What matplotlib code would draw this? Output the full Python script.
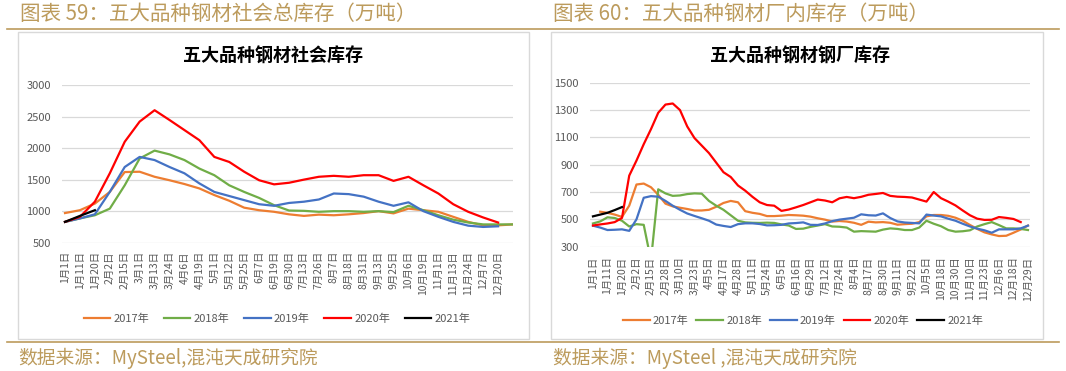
import numpy as np
import matplotlib
matplotlib.use("Agg")
import matplotlib.pyplot as plt
from matplotlib.lines import Line2D
from matplotlib.patches import Rectangle

plt.rcParams['font.family'] = ['Noto Sans CJK SC', 'DejaVu Sans']

nan = np.nan
W, H = 1066, 371

# ---- left chart: social inventory (10k t) ----
soc_labels = ["1月1日", "1月11日", "1月20日", "2月2日", "2月15日", "3月1日", "3月13日",
              "3月24日", "4月6日", "4月19日", "5月1日", "5月12日", "5月25日", "6月7日",
              "6月19日", "6月30日", "7月13日", "7月26日", "8月7日", "8月18日", "8月31日",
              "9月13日", "9月25日", "10月6日", "10月19日", "11月1日", "11月13日",
              "11月24日", "12月7日", "12月20日"]
soc_2017 = [970, 1015, 1120, 1305, 1620, 1625, 1545, 1490, 1430, 1360, 1255, 1165, 1055,
            1015, 990, 950, 925, 945, 935, 950, 970, 1000, 965, 1040, 1015, 990, 910, 830,
            775, 775, 790]
soc_2018 = [830, 885, 935, 1040, 1410, 1835, 1960, 1900, 1810, 1675, 1570, 1410, 1305,
            1210, 1095, 1010, 1005, 990, 1000, 1000, 990, 1000, 985, 1085, 1015, 935, 865,
            820, 790, 790, 790]
soc_2019 = [830, 885, 950, 1305, 1700, 1860, 1810, 1700, 1600, 1440, 1305, 1240, 1175,
            1110, 1085, 1130, 1150, 1185, 1280, 1270, 1230, 1150, 1085, 1140, 1000, 910,
            830, 770, 750, 760, nan]
soc_2020 = [830, 910, 1150, 1600, 2100, 2420, 2600, 2445, 2285, 2125, 1860, 1780, 1625,
            1490, 1425, 1450, 1500, 1545, 1560, 1545, 1570, 1570, 1480, 1545, 1410, 1280,
            1110, 990, 900, 820, nan]
soc_2021 = [830, 925, 1015]

# ---- right chart: mill inventory (10k t) ----
mill_labels = ["1月1日", "1月11日", "1月20日", "2月2日", "2月15日", "2月28日", "3月10日",
               "3月23日", "4月5日", "4月17日", "4月28日", "5月11日", "5月24日", "6月5日",
               "6月16日", "6月29日", "7月12日", "7月24日", "8月4日", "8月17日", "8月30日",
               "9月11日", "9月22日", "10月5日", "10月18日", "10月30日", "11月10日",
               "11月23日", "12月6日", "12月18日", "12月29日"]
mill_2017 = [nan, 556, 548, 535, 518, 600, 755, 762, 735, 680, 615, 595, 585, 576, 565,
             565, 570, 592, 620, 635, 625, 560, 548, 540, 524, 524, 527, 532, 530, 527,
             520, 508, 498, 484, 488, 484, 475, 460, 483, 478, 480, 475, 461, 465, 468,
             480, 522, 532, 532, 526, 512, 490, 459, 430, 405, 390, 378, 380, 402, 426, 455]
mill_2018 = [470, 485, 515, 510, 490, 448, 465, 460, 200, 720, 690, 672, 675, 685, 690,
             688, 635, 600, 570, 530, 490, 478, 475, 474, 476, 474, 463, 455, 430, 432,
             445, 455, 465, 448, 446, 440, 410, 414, 412, 410, 425, 434, 430, 422, 422,
             440, 490, 468, 450, 422, 410, 413, 420, 448, 465, 480, 458, 434, 434, 430, 422]
mill_2019 = [454, 440, 422, 424, 427, 416, 500, 658, 670, 666, 635, 600, 570, 543, 525,
             508, 490, 462, 452, 444, 465, 471, 471, 466, 456, 457, 460, 470, 473, 478,
             460, 459, 470, 487, 498, 505, 512, 537, 530, 528, 544, 510, 485, 477, 474,
             471, 535, 528, 522, 505, 490, 468, 448, 432, 420, 402, 427, 427, 427, 434, 454]
mill_2020 = [455, 463, 470, 480, 510, 820, 930, 1050, 1160, 1280, 1340, 1348, 1300, 1180,
             1095, 1040, 985, 915, 845, 810, 748, 710, 665, 625, 605, 600, 562, 572, 588,
             605, 625, 645, 638, 625, 654, 664, 655, 665, 680, 686, 693, 672, 666, 664, 660,
             645, 630, 700, 655, 630, 602, 565, 530, 505, 496, 497, 517, 511, 503, 480, nan]
mill_2021 = [522, 535, 548, 568, 590]

years = ["2017年", "2018年", "2019年", "2020年", "2021年"]
colors = ["#ED7D31", "#70AD47", "#4472C4", "#FF0000", "#000000"]

GOLD = "#BC9B5C"
TICK = "#595959"
GRID = "#D9D9D9"


def fx(px):
    return px / W


def fy(py):
    return 1 - py / H


fig = plt.figure(figsize=(W / 100, H / 100), dpi=100)

# header / footer rules and chart frames
for yy in (29, 342):
    fig.add_artist(Line2D([fx(7), fx(1059)], [fy(yy), fy(yy)], color=GOLD, lw=1.2,
                          transform=fig.transFigure))
for x0, x1 in ((18, 529), (551, 1043)):
    fig.add_artist(Rectangle((fx(x0), fy(339)), fx(x1) - fx(x0), fy(32) - fy(339),
                             transform=fig.transFigure, fill=False, ec=GRID, lw=1))

fig.text(fx(20), fy(14), "图表 59：五大品种钢材社会总库存（万吨）", color=GOLD,
         fontsize=14.8, va="center", ha="left")
fig.text(fx(553), fy(14), "图表 60：五大品种钢材厂内库存（万吨）", color=GOLD,
         fontsize=14.8, va="center", ha="left")
fig.text(fx(18), fy(358), "数据来源：MySteel,混沌天成研究院", color=GOLD,
         fontsize=13.5, va="center", ha="left")
fig.text(fx(553), fy(358), "数据来源：MySteel ,混沌天成研究院", color=GOLD,
         fontsize=13.5, va="center", ha="left")


def make_axes(l, r, t, b):
    ax = fig.add_axes([fx(l), fy(b), fx(r) - fx(l), fy(t) - fy(b)])
    for s in ax.spines.values():
        s.set_visible(False)
    ax.grid(axis="y", color=GRID, lw=0.9)
    ax.set_axisbelow(True)
    ax.tick_params(length=0, colors=TICK, labelsize=7.5)
    return ax


# left chart
ax1 = make_axes(62, 513, 85, 242.7)
for vals, c, lab in zip([soc_2017, soc_2018, soc_2019, soc_2020, soc_2021], colors, years):
    ax1.plot(np.arange(len(vals)), vals, color=c, lw=1.6, label=lab)
ax1.set_ylim(500, 3000)
ax1.set_yticks(range(500, 3001, 500))
ax1.set_xlim(-0.2, 30)
ax1.set_xticks(range(len(soc_labels)))
ax1.set_xticklabels(soc_labels, rotation=90)
ax1.tick_params(axis="x", pad=6)
ax1.tick_params(axis="y", pad=8, labelsize=8)
fig.text(fx(273), fy(56), "五大品种钢材社会库存", fontsize=13, fontweight="bold",
         ha="center", va="center")
h, l = ax1.get_legend_handles_labels()
fig.legend(h, l, loc="center", bbox_to_anchor=(fx(277), fy(319)), ncol=5, frameon=False,
           fontsize=8, handlelength=2.4, handletextpad=0.3, columnspacing=1.3,
           labelcolor=TICK)

# right chart
ax2 = make_axes(590, 1030, 82.7, 246.7)
for vals, c, lab in zip([mill_2017, mill_2018, mill_2019, mill_2020, mill_2021], colors, years):
    ax2.plot(np.arange(len(vals)), vals, color=c, lw=1.6, label=lab)
ax2.set_ylim(300, 1500)
ax2.set_yticks(range(300, 1501, 200))
ax2.set_xlim(-0.41, 60.28)
ax2.set_xticks(range(0, 61, 2))
ax2.set_xticklabels(mill_labels, rotation=90)
ax2.tick_params(axis="x", pad=7)
ax2.tick_params(axis="y", pad=8, labelsize=8)
fig.text(fx(800), fy(56), "五大品种钢材钢厂库存", fontsize=13, fontweight="bold",
         ha="center", va="center")
h, l = ax2.get_legend_handles_labels()
fig.legend(h, l, loc="center", bbox_to_anchor=(fx(803), fy(321)), ncol=5, frameon=False,
           fontsize=8, handlelength=2.4, handletextpad=0.3, columnspacing=0.7,
           labelcolor=TICK)

fig.savefig("out.png", dpi=100)
